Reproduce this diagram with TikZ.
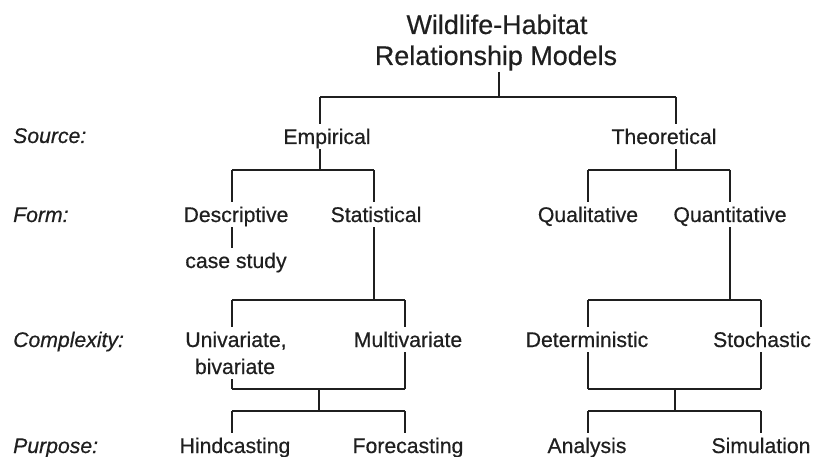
\documentclass[tikz,border=0pt]{standalone}
\usepackage{fontspec}
\setmainfont{Liberation Sans}[FakeBold=0.5]
\usetikzlibrary{backgrounds}
\definecolor{ink}{gray}{0.12}
\begin{document}
\begin{tikzpicture}[x=1pt,y=-1pt,
  every node/.style={font=\fontsize{21.2}{28}\selectfont, text=ink},
  lbl/.style={anchor=base west, inner sep=0pt, font=\fontsize{21.2}{28}\selectfont\itshape},
  item/.style={anchor=base, fill=white, inner xsep=3pt, inner ysep=1pt, text height=19pt, text depth=4pt},
  ttl/.style={anchor=base, inner sep=1pt, font=\fontsize{26.9}{31}\selectfont},
  link/.style={draw=ink, line width=1.4pt}]
\useasboundingbox (0,0) rectangle (814,457);
% title
\node[ttl] (t1) at (497,34) {Wildlife-Habitat};
\node[ttl] (t2) at (496,65) {Relationship Models};
% row labels
\node[lbl] (lsrc) at (13,143) {Source:};
\node[lbl] (lform) at (13,222) {Form:};
\node[lbl] (lcomp) at (13,347) {Complexity:};
\node[lbl] (lpur) at (13,453) {Purpose:};
% items
\node[item] (emp) at (327,144) {Empirical};
\node[item] (theo) at (664,144) {Theoretical};
\node[item] (desc) at (236,222) {Descriptive};
\node[item] (stat) at (376,222) {Statistical};
\node[item] (qual) at (588,222) {Qualitative};
\node[item] (quan) at (730,222) {Quantitative};
\node[item] (case) at (236,268) {case study};
\node[item, text depth=8pt] (uni) at (236,347) {Univariate,};
\node[item] (biv) at (235,374) {bivariate};
\node[item] (multi) at (408,347) {Multivariate};
\node[item] (det) at (587,347) {Deterministic};
\node[item] (sto) at (762,347) {Stochastic};
\node[item] (hind) at (235,453) {Hindcasting};
\node[item] (fore) at (408,453) {Forecasting};
\node[item] (ana) at (587,453) {Analysis};
\node[item] (sim) at (761,453) {Simulation};
% junctions
\coordinate (r) at (499,97);
\coordinate (ea) at (320,97);  \coordinate (ta) at (676,97);
\coordinate (eb) at (320,170); \coordinate (tb) at (676,170);
\coordinate (da) at (232,170); \coordinate (sa) at (374,170);
\coordinate (qa) at (588,170); \coordinate (na) at (730,170);
\coordinate (sb) at (374,300); \coordinate (nb) at (730,300);
\coordinate (ua) at (232,300); \coordinate (ma) at (405,300);
\coordinate (dta) at (588,300); \coordinate (sta) at (761,300);
\coordinate (ub) at (232,389); \coordinate (mb) at (405,389);
\coordinate (dtb) at (588,389); \coordinate (stb) at (761,389);
\coordinate (lc) at (319,389); \coordinate (rc) at (675,389);
\coordinate (lcb) at (319,411); \coordinate (rcb) at (675,411);
\coordinate (ha) at (232,411); \coordinate (fa) at (405,411);
\coordinate (aa) at (588,411); \coordinate (sma) at (761,411);
\begin{pgfonlayer}{background}
\draw[link] (r |- t2.south) -- (r);
\draw[link] (ea) -- (ta);
\draw[link] (ea) -- (eb);
\draw[link] (ta) -- (tb);
\draw[link] (da) -- (sa);
\draw[link] (qa) -- (na);
\draw[link] (da) -- (da |- case.north);
\draw[link] (sa) -- (sb);
\draw[link] (qa) -- (qa |- qual.north);
\draw[link] (na) -- (nb);
\draw[link] (ua) -- (ma);
\draw[link] (dta) -- (sta);
\draw[link] (ua) -- (ub);
\draw[link] (ma) -- (mb);
\draw[link] (dta) -- (dtb);
\draw[link] (sta) -- (stb);
\draw[link] (ub) -- (mb);
\draw[link] (dtb) -- (stb);
\draw[link] (lc) -- (lcb);
\draw[link] (rc) -- (rcb);
\draw[link] (ha) -- (fa);
\draw[link] (aa) -- (sma);
\draw[link] (ha) -- (ha |- hind.north);
\draw[link] (fa) -- (fa |- fore.north);
\draw[link] (aa) -- (aa |- ana.north);
\draw[link] (sma) -- (sma |- sim.north);
\end{pgfonlayer}
\end{tikzpicture}
\end{document}
